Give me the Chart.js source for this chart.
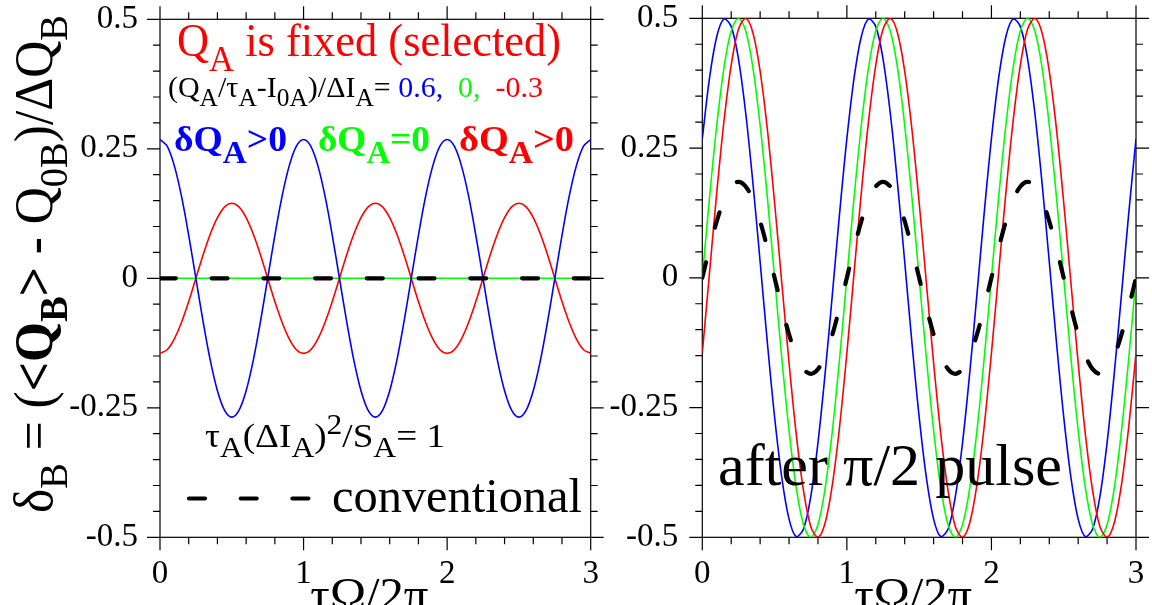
<!DOCTYPE html>
<html><head><meta charset="utf-8">
<script src="https://cdn.jsdelivr.net/npm/chart.js@4/dist/chart.umd.min.js"></script>
<style>
html,body{margin:0;padding:0;background:#fff;}
#wrap{position:relative;width:1152px;height:605px;overflow:hidden;background:#fff;}
#c1{position:absolute;left:0;top:0;}
#c2{position:absolute;left:606px;top:0;}
</style></head><body>
<div id="wrap"><canvas id="c1" width="606" height="605"></canvas><canvas id="c2" width="546" height="605"></canvas></div>
<script>
// ---------------- data ----------------
const xs = [0,0.05,0.1,0.15,0.2,0.25,0.3,0.35,0.4,0.45,0.5,0.55,0.6,0.65,0.7,0.75,0.8,0.85,0.9,0.95,
  1,1.05,1.1,1.15,1.2,1.25,1.3,1.35,1.4,1.45,1.5,1.55,1.6,1.65,1.7,1.75,1.8,1.85,1.9,1.95,
  2,2.05,2.1,2.15,2.2,2.25,2.3,2.35,2.4,2.45,2.5,2.55,2.6,2.65,2.7,2.75,2.8,2.85,2.9,2.95,3];
const flatX = [0, 3];
const xTicks = [0, 1, 2, 3];
const yTicks = [-0.5, -0.25, 0, 0.25, 0.5];
const yTickLabels = ['-0.5', '-0.25', '0', '0.25', '0.5'];

// left panel: Q_A fixed (selected)
const leftBlue = [0.268,0.255,0.217,0.158,0.083,0,-0.083,-0.158,-0.217,-0.255,-0.268,-0.255,-0.217,-0.158,-0.083,0,0.083,0.158,0.217,0.255,
  0.268,0.255,0.217,0.158,0.083,0,-0.083,-0.158,-0.217,-0.255,-0.268,-0.255,-0.217,-0.158,-0.083,0,0.083,0.158,0.217,0.255,
  0.268,0.255,0.217,0.158,0.083,0,-0.083,-0.158,-0.217,-0.255,-0.268,-0.255,-0.217,-0.158,-0.083,0,0.083,0.158,0.217,0.255,0.268];
const leftRed = [-0.145,-0.138,-0.117,-0.085,-0.045,0,0.045,0.085,0.117,0.138,0.145,0.138,0.117,0.085,0.045,0,-0.045,-0.085,-0.117,-0.138,
  -0.145,-0.138,-0.117,-0.085,-0.045,0,0.045,0.085,0.117,0.138,0.145,0.138,0.117,0.085,0.045,0,-0.045,-0.085,-0.117,-0.138,
  -0.145,-0.138,-0.117,-0.085,-0.045,0,0.045,0.085,0.117,0.138,0.145,0.138,0.117,0.085,0.045,0,-0.045,-0.085,-0.117,-0.138,-0.145];
const leftGreen = [0, 0];
const leftConventional = [0, 0];

// right panel: after pi/2 pulse
const rightBlue = [0.268,0.385,0.465,0.499,0.484,0.422,0.318,0.183,0.031,-0.125,-0.268,-0.385,-0.465,-0.499,-0.484,-0.422,-0.318,-0.183,-0.031,0.125,
  0.268,0.385,0.465,0.499,0.484,0.422,0.318,0.183,0.031,-0.125,-0.268,-0.385,-0.465,-0.499,-0.484,-0.422,-0.318,-0.183,-0.031,0.125,
  0.268,0.385,0.465,0.499,0.484,0.422,0.318,0.183,0.031,-0.125,-0.268,-0.385,-0.465,-0.499,-0.484,-0.422,-0.318,-0.183,-0.031,0.125,0.268];
const rightGreen = [0,0.155,0.294,0.405,0.476,0.5,0.476,0.405,0.294,0.155,0,-0.155,-0.294,-0.405,-0.476,-0.5,-0.476,-0.405,-0.294,-0.155,
  0,0.155,0.294,0.405,0.476,0.5,0.476,0.405,0.294,0.155,0,-0.155,-0.294,-0.405,-0.476,-0.5,-0.476,-0.405,-0.294,-0.155,
  0,0.155,0.294,0.405,0.476,0.5,0.476,0.405,0.294,0.155,0,-0.155,-0.294,-0.405,-0.476,-0.5,-0.476,-0.405,-0.294,-0.155,0];
const rightRed = [-0.145,0.010,0.164,0.302,0.410,0.479,0.500,0.472,0.398,0.286,0.145,-0.010,-0.164,-0.302,-0.410,-0.479,-0.500,-0.472,-0.398,-0.286,
  -0.145,0.010,0.164,0.302,0.410,0.479,0.500,0.472,0.398,0.286,0.145,-0.010,-0.164,-0.302,-0.410,-0.479,-0.500,-0.472,-0.398,-0.286,
  -0.145,0.010,0.164,0.302,0.410,0.479,0.500,0.472,0.398,0.286,0.145,-0.010,-0.164,-0.302,-0.410,-0.479,-0.500,-0.472,-0.398,-0.286,-0.145];
const rightConventional = [0,0.057,0.109,0.150,0.176,0.185,0.176,0.150,0.109,0.057,0,-0.057,-0.109,-0.150,-0.176,-0.185,-0.176,-0.150,-0.109,-0.057,
  0,0.057,0.109,0.150,0.176,0.185,0.176,0.150,0.109,0.057,0,-0.057,-0.109,-0.150,-0.176,-0.185,-0.176,-0.150,-0.109,-0.057,
  0,0.057,0.109,0.150,0.176,0.185,0.176,0.150,0.109,0.057,0,-0.057,-0.109,-0.150,-0.176,-0.185,-0.176,-0.150,-0.109,-0.057,0];

// ---------------- styling / helpers ----------------
const SERIF = "'Liberation Serif', 'Times New Roman', serif";
const BLUE = '#0000ff', GREEN = '#00ff00', RED = '#ff0000', BLACK = '#000000';
const DASH = [16, 35.7];
Chart.defaults.font.family = SERIF;

function pts(xa, ya) { return xa.map((v, i) => ({ x: v, y: ya[i] })); }
function line(xa, ya, color) {
  return { data: pts(xa, ya), borderColor: color, borderWidth: 1.6, pointRadius: 0, tension: 0.33, fill: false };
}
function dashed(xa, ya) {
  return { data: pts(xa, ya), borderColor: BLACK, borderWidth: 4.2, borderDash: DASH, borderCapStyle: 'round',
    pointRadius: 0, tension: 0.33, fill: false };
}

function segFont(s, F, o) {
  const f = s.s ? F * (s.s === 'sup' ? o.pf : o.sf) : F;
  return (s.b ? 'bold ' : '') + f.toFixed(2) + 'px ' + SERIF;
}
function richWidth(ctx, segs, F, o) {
  let w = 0;
  for (const s of segs) { ctx.font = segFont(s, F, o); w += ctx.measureText(s.t).width; }
  return w;
}
function drawRich(ctx, segs, x, y, F, o) {
  let cx = x;
  ctx.textBaseline = 'alphabetic'; ctx.textAlign = 'left';
  for (const s of segs) {
    ctx.font = segFont(s, F, o);
    ctx.fillStyle = s.c || BLACK;
    const dy = s.s === 'sub' ? F * o.drop : (s.s === 'sup' ? -F * o.rise : 0);
    ctx.fillText(s.t, cx, y + dy);
    cx += ctx.measureText(s.t).width;
  }
}
// draw rich text at font size F, squeezed/stretched horizontally to width W
function textBlock(ctx, segs, x, y, F, W, o) {
  const w = richWidth(ctx, segs, F, o);
  ctx.save();
  ctx.translate(x, y);
  ctx.scale(W / w, 1);
  drawRich(ctx, segs, 0, 0, F, o);
  ctx.restore();
}
const PLAIN = { sf: 0.8, pf: 0.8, drop: 0.3, rise: 0.38 };

function axisPlugin(labelPad, extra) {
  return {
    id: 'frameTicks',
    beforeDatasetsDraw(chart) {
      const ctx = chart.ctx, a = chart.chartArea;
      const sx = chart.scales.x, sy = chart.scales.y;
      ctx.save();
      ctx.strokeStyle = '#000'; ctx.lineWidth = 1.2;
      ctx.strokeRect(a.left, a.top, a.right - a.left, a.bottom - a.top);
      ctx.beginPath();
      for (let i = 0; i <= 15; i++) {
        const px = sx.getPixelForValue(i * 0.2), L = (i % 5 === 0) ? 13 : 7;
        ctx.moveTo(px, a.bottom); ctx.lineTo(px, a.bottom + L);
        ctx.moveTo(px, a.top); ctx.lineTo(px, a.top - L);
      }
      for (let i = 0; i <= 20; i++) {
        const py = sy.getPixelForValue(-0.5 + i * 0.05), L = (i % 5 === 0) ? 13 : 7;
        ctx.moveTo(a.left, py); ctx.lineTo(a.left - L, py);
        ctx.moveTo(a.right, py); ctx.lineTo(a.right + L, py);
      }
      ctx.stroke();
      // tick labels
      ctx.fillStyle = BLACK;
      ctx.font = '33px ' + SERIF;
      ctx.textAlign = 'right'; ctx.textBaseline = 'middle';
      yTicks.forEach((v, i) => ctx.fillText(yTickLabels[i], a.left - labelPad, sy.getPixelForValue(v)));
      ctx.textAlign = 'center'; ctx.textBaseline = 'alphabetic';
      xTicks.forEach(v => ctx.fillText(String(v), sx.getPixelForValue(v), 583));
      ctx.restore();
    },
    afterDatasetsDraw(chart) {
      const ctx = chart.ctx, a = chart.chartArea;
      // x-axis title
      const cx = (a.left + a.right) / 2 - 6;
      const F = 46, W = 118;
      textBlock(ctx, [{ t: 'τΩ/2π' }], cx - W / 2, 580 + 0.66 * F, F, W, PLAIN);
      if (extra) { ctx.save(); extra(chart, ctx); ctx.restore(); }
    }
  };
}

function makeOptions(yWidth, padTop, padRight) {
  return {
    responsive: false, animation: false,
    layout: { padding: { top: padTop, right: padRight, left: 0, bottom: 0 } },
    plugins: { legend: { display: false }, tooltip: { enabled: false } },
    scales: {
      x: {
        type: 'linear', min: 0, max: 3,
        grid: { display: false, drawTicks: false }, border: { display: false },
        ticks: { display: false, stepSize: 1 },
        afterFit: s => { s.height = 605 - 537.3; }
      },
      y: {
        type: 'linear', min: -0.5, max: 0.5,
        grid: { display: false, drawTicks: false }, border: { display: false },
        ticks: { display: false, stepSize: 0.25 },
        afterFit: s => { s.width = yWidth; }
      }
    }
  };
}

// ---------------- left chart ----------------
function leftText(chart, ctx) {
  // y-axis title (rotated)
  ctx.save();
  ctx.translate(52, 513);
  ctx.rotate(-Math.PI / 2);
  textBlock(ctx, [
    { t: 'δ' }, { t: 'B', s: 'sub' }, { t: ' = (' }, { t: '<Q', b: 1 }, { t: 'B', s: 'sub', b: 1 }, { t: '>', b: 1 },
    { t: ' - Q' }, { t: '0B', s: 'sub' }, { t: ')/ΔQ' }, { t: 'B', s: 'sub' }
  ], 0, 0, 54, 498, { sf: 0.75, pf: 0.75, drop: 0.27, rise: 0.35 });
  ctx.restore();

  textBlock(ctx, [{ t: 'Q', c: RED }, { t: 'A', s: 'sub', c: RED }, { t: ' is fixed (selected)', c: RED }],
    177, 56, 46, 384, { sf: 0.78, pf: 0.78, drop: 0.32, rise: 0.35 });

  textBlock(ctx, [
    { t: '(Q' }, { t: 'A', s: 'sub' }, { t: '/τ' }, { t: 'A', s: 'sub' }, { t: '-I' }, { t: '0A', s: 'sub' },
    { t: ')/ΔI' }, { t: 'A', s: 'sub' }, { t: '= ' },
    { t: '0.6,', c: BLUE }, { t: '  ' }, { t: '0,', c: GREEN }, { t: '  ' }, { t: '-0.3', c: RED }
  ], 168, 97, 29, 375, { sf: 0.85, pf: 0.85, drop: 0.3, rise: 0.35 });

  const o3 = { sf: 0.88, pf: 0.88, drop: 0.33, rise: 0.35 };
  textBlock(ctx, [{ t: 'δQ', b: 1, c: BLUE }, { t: 'A', s: 'sub', b: 1, c: BLUE }, { t: '>0', b: 1, c: BLUE }], 174, 151, 35, 113, o3);
  textBlock(ctx, [{ t: 'δQ', b: 1, c: GREEN }, { t: 'A', s: 'sub', b: 1, c: GREEN }, { t: '=0', b: 1, c: GREEN }], 318, 151, 35, 112, o3);
  textBlock(ctx, [{ t: 'δQ', b: 1, c: RED }, { t: 'A', s: 'sub', b: 1, c: RED }, { t: '>0', b: 1, c: RED }], 459, 151, 35, 115, o3);

  textBlock(ctx, [
    { t: 'τ' }, { t: 'A', s: 'sub' }, { t: '(ΔI' }, { t: 'A', s: 'sub' }, { t: ')' }, { t: '2', s: 'sup' },
    { t: '/S' }, { t: 'A', s: 'sub' }, { t: '= 1' }
  ], 205, 447, 34, 240, { sf: 0.85, pf: 0.85, drop: 0.3, rise: 0.38 });

  // legend sample for the conventional (dashed) curve
  ctx.save();
  ctx.strokeStyle = BLACK; ctx.lineWidth = 4.2; ctx.lineCap = 'round'; ctx.setLineDash(DASH);
  ctx.beginPath(); ctx.moveTo(189, 498.5); ctx.lineTo(312, 498.5); ctx.stroke();
  ctx.restore();
  textBlock(ctx, [{ t: 'conventional' }], 332, 512, 49, 250, PLAIN);
}

// Chart.js draws the first dataset on top
new Chart(document.getElementById('c1'), {
  type: 'line',
  data: { datasets: [
    dashed(flatX, leftConventional),
    line(xs, leftBlue, BLUE),
    line(xs, leftRed, RED),
    line(flatX, leftGreen, GREEN)
  ] },
  options: makeOptions(160, 19.3, 606 - 590.7),
  plugins: [axisPlugin(22, leftText)]
});

// ---------------- right chart ----------------
function rightText(chart, ctx) {
  textBlock(ctx, [{ t: 'after π/2 pulse' }], 718 - 606, 485, 60, 344, PLAIN);
}

new Chart(document.getElementById('c2'), {
  type: 'line',
  data: { datasets: [
    dashed(xs, rightConventional),
    line(xs, rightRed, RED),
    line(xs, rightGreen, GREEN),
    line(xs, rightBlue, BLUE)
  ] },
  options: makeOptions(702.3 - 606, 18.3, 546 - (1136 - 606)),
  plugins: [axisPlugin(24, rightText)]
});
</script>
</body></html>
